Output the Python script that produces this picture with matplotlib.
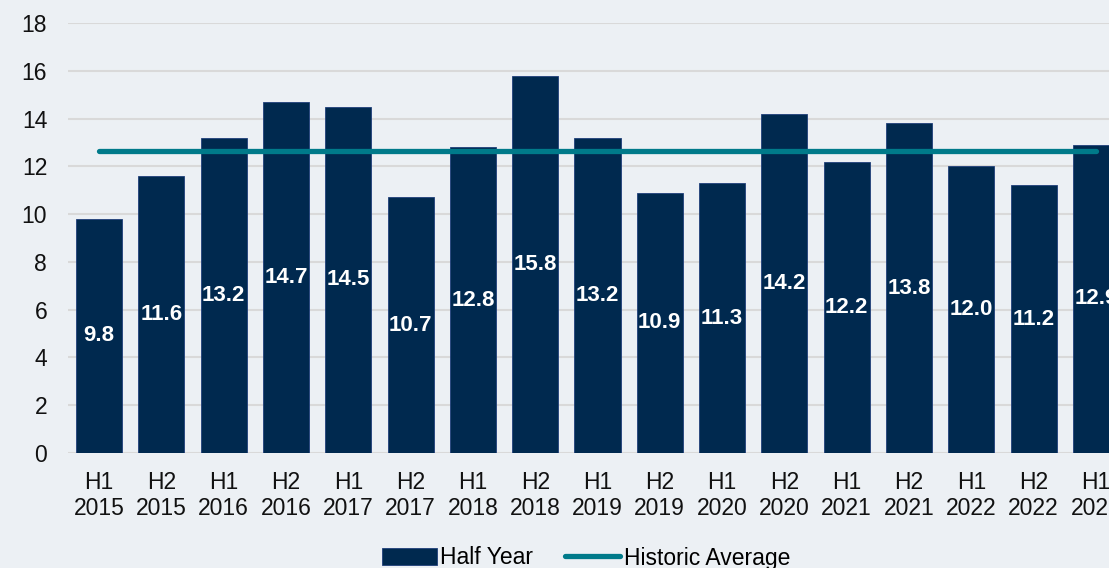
import numpy as np
import matplotlib.pyplot as plt

plt.rcParams.update({
    "font.family": ["Liberation Sans", "DejaVu Sans"],
    "font.size": 16.5,
})

# Data
periods = ["H1\n2015", "H2\n2015", "H1\n2016", "H2\n2016", "H1\n2017", "H2\n2017",
           "H1\n2018", "H2\n2018", "H1\n2019", "H2\n2019", "H1\n2020", "H2\n2020",
           "H1\n2021", "H2\n2021", "H1\n2022", "H2\n2022", "H1\n2023"]
half_year = [9.8, 11.6, 13.2, 14.7, 14.5, 10.7, 12.8, 15.8, 13.2, 10.9,
             11.3, 14.2, 12.2, 13.8, 12.0, 11.2, 12.9]
historic_avg = [np.mean(half_year)] * len(half_year)

bg = "#ECF0F4"
bar_col = "#00294F"
line_col = "#007A8A"

fig = plt.figure(figsize=(11.09, 5.68), dpi=100, facecolor=bg)
ax = fig.add_axes([68 / 1109, 1 - 453 / 568, (1127 - 68) / 1109, (453 - 23) / 568])
ax.set_facecolor(bg)

x = np.arange(len(periods))
bars = ax.bar(x, half_year, width=0.74, color=bar_col, edgecolor="#1F3F7A",
              linewidth=0.6, label="Half Year", zorder=2)
avg_line, = ax.plot(x, historic_avg, color=line_col, linewidth=3.8,
                    solid_capstyle="round", label="Historic Average", zorder=3)

# value labels in the middle of each bar
for xi, v in zip(x, half_year):
    ax.text(xi, v / 2, f"{v:.1f}", ha="center", va="center", color="white",
            fontsize=16, fontweight="bold", zorder=4)

ax.set_xlim(-0.5, len(periods) - 0.5)
ax.set_ylim(0, 18)
ax.set_yticks(range(0, 19, 2))
ax.set_xticks(x)
ax.set_xticklabels(periods, linespacing=1.15)
ax.tick_params(axis="both", length=0, colors="#111111")
ax.tick_params(axis="x", pad=13)
ax.tick_params(axis="y", pad=15)
ax.grid(axis="y", color="#D9D9D9", linewidth=1.5, zorder=0)
ax.set_axisbelow(True)
for s in ax.spines.values():
    s.set_visible(False)

fig.legend([bars, avg_line], ["Half Year", "Historic Average"], loc="center",
           bbox_to_anchor=(586 / 1109, 1 - 558 / 568), ncol=2, frameon=False,
           fontsize=16.5, handlelength=2.4, handletextpad=0.15, columnspacing=1.4)

fig.savefig("out.png", dpi=100, facecolor=bg)
